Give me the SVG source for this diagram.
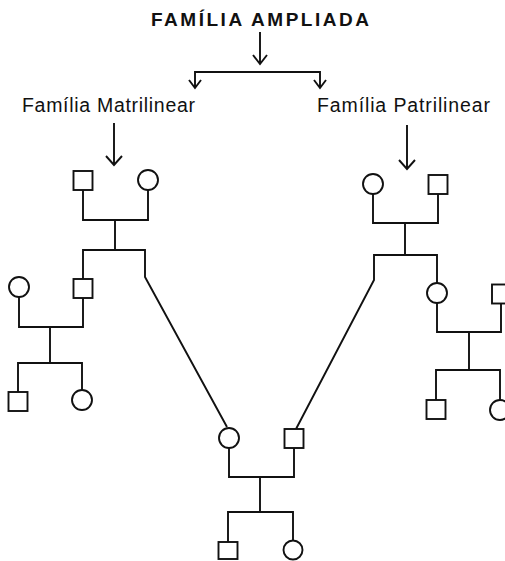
<svg xmlns="http://www.w3.org/2000/svg" width="505" height="561" viewBox="0 0 505 561">
<style>
  .bg{fill:#ffffff}
  .sym{fill:#ffffff;stroke:#111111;stroke-width:1.9}
  .con{fill:none;stroke:#111111;stroke-width:1.9;stroke-linejoin:miter;stroke-linecap:butt}
  .title{font-family:"Liberation Sans",Arial,sans-serif;font-weight:bold;font-size:19px;fill:#111111}
  .sub{font-family:"Liberation Sans",Arial,sans-serif;font-size:19.5px;fill:#111111}
</style>
<rect class="bg" x="0" y="0" width="505" height="561"/>
<g id="connectors">
  <path class="con" d="M260 32 V64 M253 55 L260 64 L267 55"/>
  <path class="con" d="M195 88 V72 H320 V88 M189 80 L195 88 L201 80 M314 80 L320 88 L326 80"/>
  <path class="con" d="M114 123 V165 M106 156 L114 165 L122 156"/>
  <path class="con" d="M407 125 V169 M399 160 L407 169 L415 160"/>
  <path class="con" d="M83 190 V220 H148 V190 M115 220 V250 M83 279 V250 H145 V277 L227 427"/>
  <path class="con" d="M19 297 V327 H83 V298 M50 327 V363 M18 392 V363 H82 V390"/>
  <path class="con" d="M373 194 V223 H438 V194 M405 223 V255 M296 429 L374 280 V255 H437 V283"/>
  <path class="con" d="M437 303 V332 H501 V303 M469 332 V370 M436 400 V370 H500 V400"/>
  <path class="con" d="M229 448 V477 H294 V448 M260 477 V512 M228 542 V512 H293 V541"/>
</g>
<g id="title"><text class="title" x="151" y="26" textLength="218" lengthAdjust="spacing">FAMÍLIA AMPLIADA</text></g>
<g id="matrilinear"><text class="sub" x="22" y="112" textLength="173" lengthAdjust="spacing">Família Matrilinear</text></g>
<g id="patrilinear"><text class="sub" x="317" y="112" textLength="173" lengthAdjust="spacing">Família Patrilinear</text></g>
<g id="lp-father"><rect class="sym" x="73.5" y="171" width="19" height="19"/></g>
<g id="lp-mother"><circle class="sym" cx="148" cy="180" r="10"/></g>
<g id="lp-son"><rect class="sym" x="73.5" y="279" width="19" height="19"/></g>
<g id="lp-son-wife"><circle class="sym" cx="19" cy="287" r="10"/></g>
<g id="lp-grandson"><rect class="sym" x="8.5" y="392" width="19" height="19"/></g>
<g id="lp-granddaughter"><circle class="sym" cx="82" cy="400" r="10"/></g>
<g id="rp-mother"><circle class="sym" cx="373" cy="184" r="10"/></g>
<g id="rp-father"><rect class="sym" x="428.5" y="175" width="19" height="19"/></g>
<g id="rp-daughter"><circle class="sym" cx="437" cy="293" r="10"/></g>
<g id="rp-daughter-husband"><rect class="sym" x="492" y="284.5" width="19" height="19"/></g>
<g id="rp-grandson"><rect class="sym" x="426.5" y="400" width="19" height="19"/></g>
<g id="rp-granddaughter"><circle class="sym" cx="500" cy="410" r="10"/></g>
<g id="ego-mother"><circle class="sym" cx="229" cy="438" r="10"/></g>
<g id="ego-father"><rect class="sym" x="284.5" y="429" width="19" height="19"/></g>
<g id="ego-son"><rect class="sym" x="218.5" y="542" width="19" height="17"/></g>
<g id="ego-daughter"><circle class="sym" cx="293" cy="550" r="9.5"/></g>
</svg>
